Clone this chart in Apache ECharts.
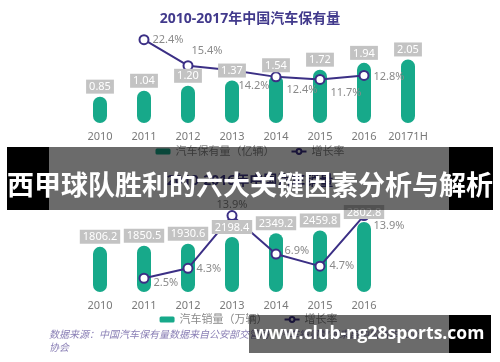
<!DOCTYPE html>
<html>
<head>
<meta charset="utf-8">
<script src="https://cdn.jsdelivr.net/npm/echarts@6/dist/echarts.min.js"></script>
<style>html,body{margin:0;padding:0;background:#fff;}#c{width:500px;height:362px;}</style>
</head>
<body>
<div id="c"></div>
<script>
// ---- data ----
var stockYears = ['2010', '2011', '2012', '2013', '2014', '2015', '2016', '20171H'];
var stockValues = [0.85, 1.04, 1.20, 1.37, 1.54, 1.72, 1.94, 2.05];
var stockGrowth = [null, 22.4, 15.4, 14.2, 12.4, 11.7, 12.8, null];
var salesYears = ['2010', '2011', '2012', '2013', '2014', '2015', '2016'];
var salesValues = [1806.2, 1850.5, 1930.6, 2198.4, 2349.2, 2459.8, 2802.8];
var salesGrowth = [null, 2.5, 4.3, 13.9, 6.9, 4.7, 13.9];
var titleTop = '2010-2017年中国汽车保有量';
var titleBottom = '2010-2016年中国汽车销量';
var legendTop = ['汽车保有量（亿辆）', '增长率'];
var legendBottom = ['汽车销量（万辆）', '增长率 '];
var sourceLine1 = '数据来源：中国汽车保有量数据来自公安部交管局，汽车销量数据来自中国汽车工业';
var sourceLine2 = '协会';
var bannerText = '西甲球队胜利的六大关键因素分析与解析';
var siteText = 'www.club-ng28sports.com';

// ---- styling: growth label placement (position, offset) ----
var topLabelPos = [null, ['right', [-2, 0]], ['right', [-7, -15]], ['right', [-4, 16]],
  ['right', [0, 13]], ['right', [0, 13]], ['right', [-1, 1]], null];
var botLabelPos = [null, ['right', [-1, 5]], ['right', [-2, 1]], ['top', [0, 5]],
  ['right', [-2, -3]], ['right', [-1, 0]], ['right', [-1, 10]]];

var GREEN = '#17a98a';
var PURPLE = '#3b2f85';
var FONT = '"Noto Sans", "Noto Sans CJK SC", sans-serif';

function growthData(vals, pos) {
  return vals.map(function (v, i) {
    if (v === null) return '-';
    return { value: v, label: { position: pos[i][0], offset: pos[i][1] } };
  });
}

var chart = echarts.init(document.getElementById('c'), null, { renderer: 'canvas' });

var barLabel = {
  show: true, position: 'top', distance: 3,
  backgroundColor: '#c3c3c3', color: '#fff', padding: [2, 3, 1, 3],
  fontSize: 11, fontFamily: FONT
};
var lineLabel = {
  show: true, color: '#8a8a8a', fontSize: 11, fontFamily: FONT,
  formatter: function (p) { return p.value.toFixed(1) + '%'; }
};
var xLabel = { color: '#7a7a7a', fontSize: 11, margin: 8, interval: 0 };

chart.setOption({
  animation: false,
  textStyle: { fontFamily: FONT },
  title: [
    { text: titleTop, left: 'center', top: 7,
      textStyle: { fontSize: 14, fontWeight: 'bold', color: '#423a8c', fontFamily: FONT } },
    { text: titleBottom, left: 'center', top: 169,
      textStyle: { fontSize: 14, fontWeight: 'bold', color: '#423a8c', fontFamily: FONT } }
  ],
  legend: [
    { data: legendTop, top: 141, left: 'center', itemGap: 16, itemWidth: 15, itemHeight: 6,
      textStyle: { color: '#8a8a8a', fontSize: 11 } },
    { data: legendBottom, top: 309, left: 'center', itemGap: 16, itemWidth: 15, itemHeight: 6,
      textStyle: { color: '#8a8a8a', fontSize: 11 } }
  ],
  grid: [
    { left: 78, width: 352, top: 30, height: 93 },
    { left: 78, width: 308, top: 204, height: 88 }
  ],
  xAxis: [
    { type: 'category', data: stockYears, gridIndex: 0,
      axisLine: { show: false }, axisTick: { show: false }, axisLabel: xLabel },
    { type: 'category', data: salesYears, gridIndex: 1,
      axisLine: { show: false }, axisTick: { show: false }, axisLabel: xLabel }
  ],
  yAxis: [
    { type: 'value', gridIndex: 0, min: 0, max: 3, show: false },
    { type: 'value', gridIndex: 0, min: 0, max: 25, show: false },
    { type: 'value', gridIndex: 1, min: 0, max: 3520, show: false },
    { type: 'value', gridIndex: 1, min: 0, max: 16, show: false }
  ],
  series: [
    { name: legendTop[0], type: 'bar', xAxisIndex: 0, yAxisIndex: 0, data: stockValues,
      barWidth: 14, z: 2, itemStyle: { color: GREEN, borderRadius: 7 } },
    { name: 'lbl1', type: 'bar', xAxisIndex: 0, yAxisIndex: 0, data: stockValues,
      barWidth: 14, barGap: '-100%', z: 6, silent: true,
      itemStyle: { color: 'rgba(0,0,0,0)' },
      label: Object.assign({}, barLabel, { formatter: function (p) { return p.value.toFixed(2); } }) },
    { name: legendTop[1], type: 'line', xAxisIndex: 0, yAxisIndex: 1,
      data: growthData(stockGrowth, topLabelPos), z: 4,
      symbol: 'emptyCircle', symbolSize: 9,
      lineStyle: { color: PURPLE, width: 2 },
      itemStyle: { color: PURPLE, borderWidth: 2 },
      label: lineLabel },
    { name: legendBottom[0], type: 'bar', xAxisIndex: 1, yAxisIndex: 2, data: salesValues,
      barWidth: 14, z: 2, itemStyle: { color: GREEN, borderRadius: 7 } },
    { name: 'lbl2', type: 'bar', xAxisIndex: 1, yAxisIndex: 2, data: salesValues,
      barWidth: 14, barGap: '-100%', z: 6, silent: true,
      itemStyle: { color: 'rgba(0,0,0,0)' },
      label: Object.assign({}, barLabel, { formatter: function (p) { return p.value.toFixed(1); } }) },
    { name: legendBottom[1], type: 'line', xAxisIndex: 1, yAxisIndex: 3,
      data: growthData(salesGrowth, botLabelPos), z: 4,
      symbol: 'emptyCircle', symbolSize: 9,
      lineStyle: { color: PURPLE, width: 2 },
      itemStyle: { color: PURPLE, borderWidth: 2 },
      label: lineLabel }
  ],
  graphic: [
    { type: 'text', left: 49, top: 329, z: 1,
      style: { text: sourceLine1, fill: '#8b80b6', font: 'italic 10px "Noto Sans CJK SC"' } },
    { type: 'text', left: 49, top: 342, z: 1,
      style: { text: sourceLine2, fill: '#8b80b6', font: 'italic 10px "Noto Sans CJK SC"' } },
    // banner
    { type: 'rect', shape: { x: 7, y: 147, width: 42, height: 63 }, style: { fill: '#000' }, z: 100 },
    { type: 'rect', shape: { x: 49, y: 147, width: 400, height: 63 }, style: { fill: 'rgba(0,0,0,0.58)' }, z: 100 },
    { type: 'rect', shape: { x: 449, y: 147, width: 44, height: 63 }, style: { fill: '#000' }, z: 100 },
    { type: 'text', x: 250, y: 185, z: 101,
      style: { text: bannerText, fill: '#fff', align: 'center', verticalAlign: 'middle',
        font: 'bold 27px "Noto Sans CJK SC"' } },
    // site watermark
    { type: 'rect', shape: { x: 249, y: 315, width: 200, height: 38 }, style: { fill: 'rgba(0,0,0,0.58)' }, z: 100 },
    { type: 'rect', shape: { x: 449, y: 315, width: 42, height: 38 }, style: { fill: '#000' }, z: 100 },
    { type: 'text', x: 369, y: 334, z: 101,
      style: { text: siteText, fill: '#fff', align: 'center', verticalAlign: 'middle',
        font: 'bold 17.5px "Open Sans"' } }
  ]
});
</script>
</body>
</html>
